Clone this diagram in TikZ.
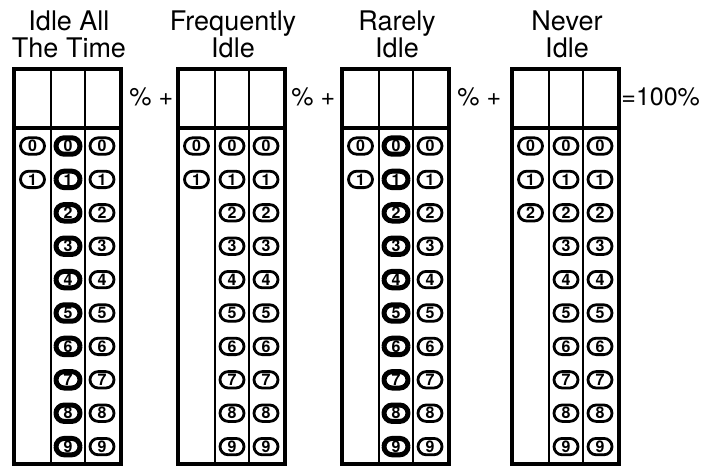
\documentclass[tikz,border=0pt]{standalone}
\usepackage{fontspec}
\setmainfont{TeX Gyre Heros}
\usetikzlibrary{positioning}

\tikzset{
  frame/.style={draw=black, line width=1.6pt},
  divider/.style={draw=black, line width=1.1pt},
  bubble/.style={draw=black, line width=1.4pt, rounded corners=4.1pt, minimum width=12pt, minimum height=8.2pt, inner sep=0pt, font=\fontsize{8}{8}\selectfont\bfseries},
  darkbubble/.style={bubble, line width=2.5pt},
  title/.style={align=center, anchor=north, inner sep=0pt, font=\fontsize{13.5}{13.5}\selectfont},
  sign/.style={anchor=west, inner sep=0pt, font=\fontsize{12.5}{12.5}\selectfont}
}

\begin{document}
\begin{tikzpicture}[x=0.5pt, y=-0.5pt]
\useasboundingbox (0,0) rectangle (712,467);

% one answer block per category
\foreach \b/\lx/\ttl/\nfirst/\midstyle in {1/14/{Idle All\\The Time}/1/darkbubble, 2/178/{Frequently\\Idle}/1/bubble, 3/342/{Rarely\\Idle}/1/darkbubble, 4/512/{Never\\Idle}/2/bubble}
{
  \node[title] (title\b) at (\lx+55,10) {\ttl};
  \draw[frame] (\lx,69) rectangle (\lx+107,464);
  \draw[frame, line width=2.2pt] (\lx,128) -- (\lx+107,128);
  \draw[divider] (\lx+37,69) -- (\lx+37,464);
  \draw[divider] (\lx+71,69) -- (\lx+71,464);
  \foreach \d in {0,...,\nfirst}
    \node[bubble] (bub\b-1-\d) at (\lx+18.5,146+33.4*\d) {\d};
  \foreach \d in {0,...,9} {
    \node[\midstyle] (bub\b-2-\d) at (\lx+54,146+33.4*\d) {\d};
    \node[bubble] (bub\b-3-\d) at (\lx+88,146+33.4*\d) {\d};
  }
}

\node[sign] (plus1) at (129,97) {\% +};
\node[sign] (plus2) at (291,97) {\% +};
\node[sign] (plus3) at (457,97) {\% +};
\node[sign] (total) at (621,97) {=100\%};

\end{tikzpicture}
\end{document}
